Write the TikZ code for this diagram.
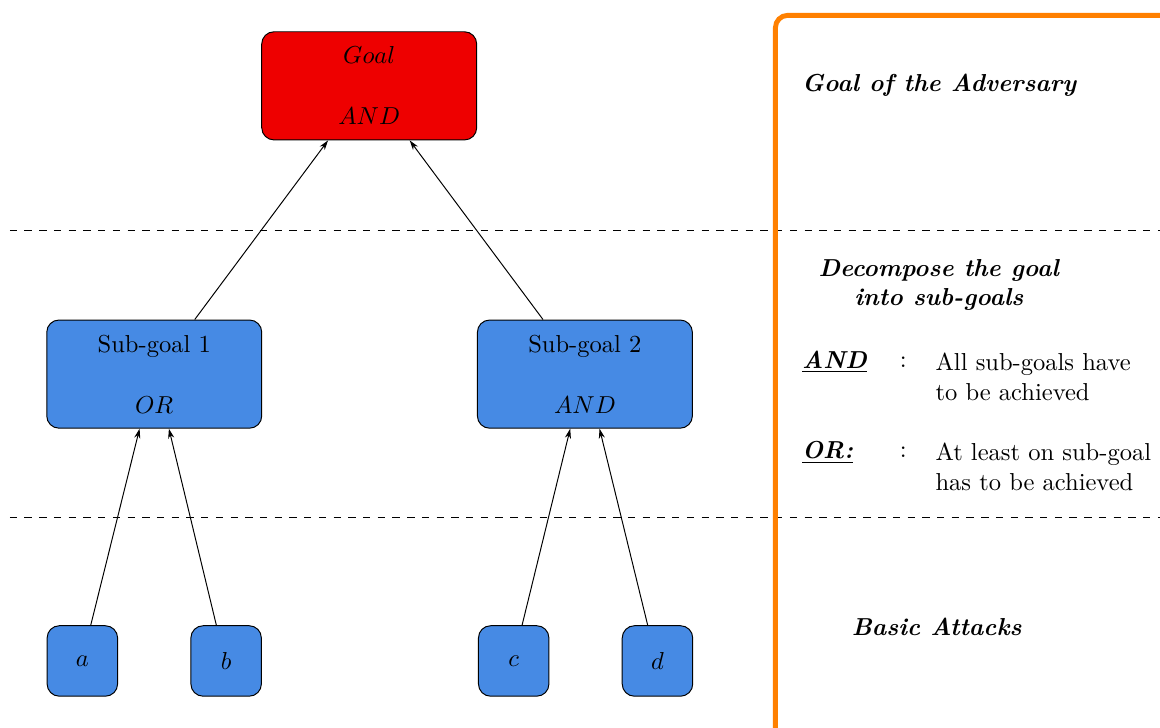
\documentclass[tikz,border=0pt]{standalone}
\usepackage{amsmath}
\usepackage{tikz}
\usetikzlibrary{arrows.meta}
\definecolor{goalred}{RGB}{238,0,0}
\definecolor{nodeblue}{RGB}{70,138,228}
\definecolor{legendorange}{RGB}{255,128,0}
\tikzset{
  goalbox/.style={draw, rounded corners=5pt, fill=goalred, minimum width=3.08cm, minimum height=1.55cm, align=center},
  subbox/.style={draw, rounded corners=5pt, fill=nodeblue, minimum width=3.08cm, minimum height=1.55cm, align=center},
  leafbox/.style={draw, rounded corners=5pt, fill=nodeblue, minimum width=1.01cm, minimum height=1.01cm},
  edge/.style={-{Stealth[length=4pt,width=2.5pt]}},
  legend/.style={font=\bfseries\itshape},
}
\begin{document}
\begin{tikzpicture}
   \useasboundingbox (0,0) rectangle (16.62,-10.42);

   % attack tree
   \node[goalbox] (goal) at (5.29,-1.23) {$Goal$\\[0.45cm]$AND$};
   \node[subbox] (sg1) at (2.21,-5.36) {Sub-goal 1\\[0.45cm]$OR$};
   \node[subbox] (sg2) at (8.38,-5.36) {Sub-goal 2\\[0.45cm]$AND$};

   \node[leafbox] (a) at (1.18,-9.47) {$a$};
   \node[leafbox] (b) at (3.24,-9.47) {$b$};
   \node[leafbox] (c) at (7.36,-9.47) {$c$};
   \node[leafbox] (d) at (9.42,-9.47) {$d$};

   \draw[edge] ([xshift=0.58cm]sg1.north) -- ([xshift=-0.59cm]goal.south);
   \draw[edge] ([xshift=-0.6cm]sg2.north) -- ([xshift=0.58cm]goal.south);
   \draw[edge] ([xshift=0.12cm]a.north) -- ([xshift=-0.21cm]sg1.south);
   \draw[edge] ([xshift=-0.14cm]b.north) -- ([xshift=0.21cm]sg1.south);
   \draw[edge] ([xshift=0.12cm]c.north) -- ([xshift=-0.21cm]sg2.south);
   \draw[edge] ([xshift=-0.14cm]d.north) -- ([xshift=0.21cm]sg2.south);

   % levels
   \draw[dashed] (0.14,-3.30) -- (16.62,-3.30);
   \draw[dashed] (0.14,-7.41) -- (16.62,-7.41);

   % legend
   \begin{scope}
     \clip (0,0) rectangle (16.62,-10.42);
     \draw[legendorange, line width=2pt, rounded corners=5pt] (11.11,-0.22) rectangle (17.2,-11);
   \end{scope}

   \node[legend, anchor=west] (lgoal) at (11.37,-1.22) {Goal of the Adversary};
   \node[legend, align=center] (ldecomp) at (13.45,-4.08) {Decompose the goal\\into sub-goals};

   \node[anchor=west] (land) at (11.37,-5.19) {\underline{\textbf{\textit{AND}}}};
   \node (cand) at (12.94,-5.19) {:};
   \node[anchor=west, align=left] (tand) at (13.28,-5.40) {All sub-goals have\\to be achieved};

   \node[anchor=west] (lor) at (11.37,-6.48) {\underline{\textbf{\textit{OR:}}}};
   \node (cor) at (12.94,-6.48) {:};
   \node[anchor=west, align=left] (tor) at (13.28,-6.69) {At least on sub-goal\\has to be achieved};

   \node[legend] (lbasic) at (13.42,-8.98) {Basic Attacks};
\end{tikzpicture}
\end{document}
